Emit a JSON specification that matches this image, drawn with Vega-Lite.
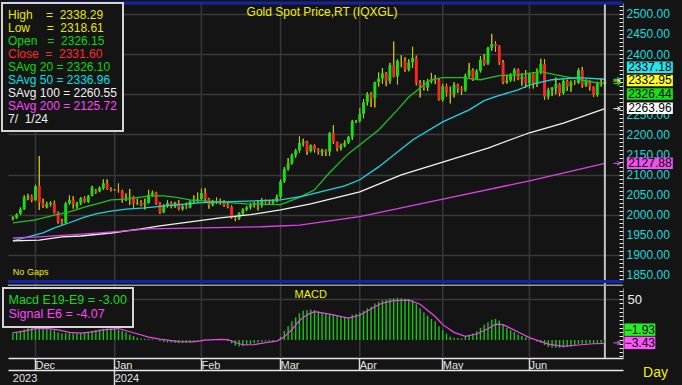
{
"$schema": "https://vega.github.io/schema/vega-lite/v6.json",
"width": 615,
"height": 355,
"autosize": {"type": "none"},
"padding": {"left": 8, "top": 3, "right": 59, "bottom": 27},
"background": "#141414",
"config": {
  "view": {"stroke": null},
  "font": "Liberation Sans",
  "axis": {"labelFont": "Liberation Sans", "titleFont": "Liberation Sans", "labelOverlap": false},
  "legend": {"labelFont": "Liberation Sans", "strokeWidth": 2},
  "text": {"font": "Liberation Sans"}
},
"datasets": {
  "bars": [
    {"d":"2023-11-23","o":1990,"h":1996,"l":1986,"c":1993,"m":9},
    {"d":"2023-11-24","o":1992,"h":2003,"l":1990,"c":2001,"m":10},
    {"d":"2023-11-27","o":2002,"h":2018,"l":2000,"c":2014,"m":11.5},
    {"d":"2023-11-28","o":2014,"h":2048,"l":2012,"c":2042,"m":13},
    {"d":"2023-11-29","o":2042,"h":2052,"l":2036,"c":2045,"m":15},
    {"d":"2023-11-30","o":2046,"h":2050,"l":2031,"c":2036,"m":16},
    {"d":"2023-12-01","o":2036,"h":2075,"l":2034,"c":2071,"m":16.5},
    {"d":"2023-12-04","o":2072,"h":2146,"l":2012,"c":2030,"m":16},
    {"d":"2023-12-05","o":2030,"h":2040,"l":2017,"c":2020,"m":15},
    {"d":"2023-12-06","o":2019,"h":2032,"l":2016,"c":2026,"m":14},
    {"d":"2023-12-07","o":2026,"h":2034,"l":2021,"c":2029,"m":13},
    {"d":"2023-12-08","o":2028,"h":2035,"l":2003,"c":2005,"m":12},
    {"d":"2023-12-11","o":2005,"h":2008,"l":1978,"c":1982,"m":9.5},
    {"d":"2023-12-12","o":1983,"h":1990,"l":1975,"c":1979,"m":8},
    {"d":"2023-12-13","o":1980,"h":2032,"l":1977,"c":2028,"m":8.5},
    {"d":"2023-12-14","o":2028,"h":2048,"l":2025,"c":2037,"m":8.5},
    {"d":"2023-12-15","o":2037,"h":2046,"l":2015,"c":2027,"m":8},
    {"d":"2023-12-18","o":2020,"h":2032,"l":2015,"c":2028,"m":8},
    {"d":"2023-12-19","o":2028,"h":2044,"l":2024,"c":2041,"m":8.5},
    {"d":"2023-12-20","o":2041,"h":2046,"l":2029,"c":2032,"m":9},
    {"d":"2023-12-21","o":2032,"h":2049,"l":2030,"c":2046,"m":10},
    {"d":"2023-12-22","o":2048,"h":2072,"l":2046,"c":2068,"m":11.5},
    {"d":"2023-12-25","o":2060,"h":2064,"l":2052,"c":2057,"m":12},
    {"d":"2023-12-26","o":2058,"h":2070,"l":2056,"c":2067,"m":13},
    {"d":"2023-12-27","o":2066,"h":2088,"l":2062,"c":2078,"m":14},
    {"d":"2023-12-28","o":2078,"h":2088,"l":2062,"c":2064,"m":14.5},
    {"d":"2023-12-29","o":2064,"h":2068,"l":2058,"c":2062,"m":14.5},
    {"d":"2024-01-01","o":2062,"h":2064,"l":2059,"c":2063,"m":14},
    {"d":"2024-01-02","o":2062,"h":2078,"l":2055,"c":2059,"m":13},
    {"d":"2024-01-03","o":2059,"h":2062,"l":2030,"c":2042,"m":11.5},
    {"d":"2024-01-04","o":2042,"h":2053,"l":2034,"c":2044,"m":9.5},
    {"d":"2024-01-05","o":2044,"h":2064,"l":2024,"c":2045,"m":7},
    {"d":"2024-01-08","o":2045,"h":2047,"l":2017,"c":2028,"m":5},
    {"d":"2024-01-09","o":2028,"h":2040,"l":2024,"c":2030,"m":3},
    {"d":"2024-01-10","o":2031,"h":2036,"l":2021,"c":2025,"m":2},
    {"d":"2024-01-11","o":2025,"h":2040,"l":2013,"c":2029,"m":1.5},
    {"d":"2024-01-12","o":2029,"h":2062,"l":2028,"c":2049,"m":1.5},
    {"d":"2024-01-15","o":2049,"h":2060,"l":2045,"c":2055,"m":1},
    {"d":"2024-01-16","o":2055,"h":2057,"l":2025,"c":2028,"m":0.5},
    {"d":"2024-01-17","o":2028,"h":2031,"l":2002,"c":2006,"m":-1.5},
    {"d":"2024-01-18","o":2006,"h":2026,"l":2004,"c":2023,"m":-2.5},
    {"d":"2024-01-19","o":2023,"h":2036,"l":2018,"c":2029,"m":-3},
    {"d":"2024-01-22","o":2029,"h":2033,"l":2016,"c":2021,"m":-3},
    {"d":"2024-01-23","o":2021,"h":2032,"l":2017,"c":2029,"m":-3.5},
    {"d":"2024-01-24","o":2029,"h":2036,"l":2011,"c":2014,"m":-3.5},
    {"d":"2024-01-25","o":2014,"h":2024,"l":2010,"c":2021,"m":-3.5},
    {"d":"2024-01-26","o":2021,"h":2030,"l":2014,"c":2018,"m":-3},
    {"d":"2024-01-29","o":2018,"h":2036,"l":2016,"c":2033,"m":-3},
    {"d":"2024-01-30","o":2033,"h":2048,"l":2028,"c":2037,"m":-2},
    {"d":"2024-01-31","o":2037,"h":2055,"l":2030,"c":2039,"m":-1},
    {"d":"2024-02-01","o":2039,"h":2065,"l":2036,"c":2054,"m":0.5},
    {"d":"2024-02-02","o":2054,"h":2066,"l":2030,"c":2039,"m":1},
    {"d":"2024-02-05","o":2039,"h":2042,"l":2015,"c":2024,"m":1},
    {"d":"2024-02-06","o":2024,"h":2037,"l":2021,"c":2035,"m":1},
    {"d":"2024-02-07","o":2035,"h":2043,"l":2027,"c":2034,"m":1},
    {"d":"2024-02-08","o":2034,"h":2040,"l":2025,"c":2030,"m":0.5},
    {"d":"2024-02-09","o":2030,"h":2036,"l":2020,"c":2024,"m":0},
    {"d":"2024-02-12","o":2024,"h":2030,"l":2016,"c":2020,"m":-1},
    {"d":"2024-02-13","o":2020,"h":2023,"l":1990,"c":1992,"m":-4},
    {"d":"2024-02-14","o":1992,"h":1996,"l":1984,"c":1991,"m":-7},
    {"d":"2024-02-15","o":1991,"h":2006,"l":1987,"c":2004,"m":-8},
    {"d":"2024-02-16","o":2004,"h":2016,"l":1999,"c":2013,"m":-7.5},
    {"d":"2024-02-19","o":2013,"h":2022,"l":2009,"c":2018,"m":-6.5},
    {"d":"2024-02-20","o":2018,"h":2030,"l":2013,"c":2024,"m":-5},
    {"d":"2024-02-21","o":2024,"h":2032,"l":2018,"c":2026,"m":-4},
    {"d":"2024-02-22","o":2026,"h":2035,"l":2011,"c":2024,"m":-3},
    {"d":"2024-02-23","o":2024,"h":2041,"l":2018,"c":2035,"m":-2},
    {"d":"2024-02-26","o":2035,"h":2038,"l":2026,"c":2031,"m":-1.5},
    {"d":"2024-02-27","o":2031,"h":2037,"l":2025,"c":2030,"m":-1},
    {"d":"2024-02-28","o":2030,"h":2038,"l":2024,"c":2034,"m":-1},
    {"d":"2024-02-29","o":2034,"h":2050,"l":2031,"c":2044,"m":0},
    {"d":"2024-03-01","o":2044,"h":2088,"l":2039,"c":2083,"m":4},
    {"d":"2024-03-04","o":2083,"h":2119,"l":2079,"c":2114,"m":11},
    {"d":"2024-03-05","o":2114,"h":2141,"l":2110,"c":2128,"m":17},
    {"d":"2024-03-06","o":2128,"h":2152,"l":2125,"c":2148,"m":23},
    {"d":"2024-03-07","o":2148,"h":2164,"l":2142,"c":2160,"m":28},
    {"d":"2024-03-08","o":2160,"h":2195,"l":2154,"c":2179,"m":33},
    {"d":"2024-03-11","o":2179,"h":2189,"l":2170,"c":2182,"m":36},
    {"d":"2024-03-12","o":2182,"h":2184,"l":2149,"c":2158,"m":37},
    {"d":"2024-03-13","o":2158,"h":2175,"l":2155,"c":2173,"m":37.5},
    {"d":"2024-03-14","o":2173,"h":2175,"l":2155,"c":2162,"m":37},
    {"d":"2024-03-15","o":2162,"h":2166,"l":2150,"c":2156,"m":35.5},
    {"d":"2024-03-18","o":2155,"h":2164,"l":2146,"c":2160,"m":34},
    {"d":"2024-03-19","o":2160,"h":2163,"l":2146,"c":2157,"m":32.5},
    {"d":"2024-03-20","o":2157,"h":2206,"l":2146,"c":2203,"m":32},
    {"d":"2024-03-21","o":2203,"h":2223,"l":2176,"c":2181,"m":31.5},
    {"d":"2024-03-22","o":2181,"h":2182,"l":2158,"c":2166,"m":30},
    {"d":"2024-03-25","o":2166,"h":2177,"l":2160,"c":2172,"m":28.5},
    {"d":"2024-03-26","o":2172,"h":2185,"l":2168,"c":2179,"m":27.5},
    {"d":"2024-03-27","o":2179,"h":2196,"l":2176,"c":2194,"m":28},
    {"d":"2024-03-28","o":2194,"h":2236,"l":2186,"c":2232,"m":31},
    {"d":"2024-03-29","o":2232,"h":2236,"l":2228,"c":2233,"m":32.5},
    {"d":"2024-04-01","o":2233,"h":2266,"l":2229,"c":2251,"m":34},
    {"d":"2024-04-02","o":2251,"h":2288,"l":2240,"c":2280,"m":36},
    {"d":"2024-04-03","o":2280,"h":2305,"l":2272,"c":2300,"m":39},
    {"d":"2024-04-04","o":2300,"h":2305,"l":2268,"c":2290,"m":41},
    {"d":"2024-04-05","o":2290,"h":2331,"l":2267,"c":2330,"m":45},
    {"d":"2024-04-08","o":2330,"h":2354,"l":2319,"c":2339,"m":47},
    {"d":"2024-04-09","o":2339,"h":2365,"l":2326,"c":2352,"m":49},
    {"d":"2024-04-10","o":2352,"h":2355,"l":2320,"c":2333,"m":50},
    {"d":"2024-04-11","o":2333,"h":2378,"l":2326,"c":2372,"m":51},
    {"d":"2024-04-12","o":2372,"h":2431,"l":2342,"c":2344,"m":51.5},
    {"d":"2024-04-15","o":2344,"h":2387,"l":2324,"c":2383,"m":52},
    {"d":"2024-04-16","o":2383,"h":2397,"l":2367,"c":2383,"m":51.5},
    {"d":"2024-04-17","o":2383,"h":2392,"l":2356,"c":2361,"m":51},
    {"d":"2024-04-18","o":2361,"h":2387,"l":2357,"c":2379,"m":50.5},
    {"d":"2024-04-19","o":2379,"h":2418,"l":2366,"c":2391,"m":49},
    {"d":"2024-04-22","o":2391,"h":2396,"l":2322,"c":2327,"m":44},
    {"d":"2024-04-23","o":2327,"h":2335,"l":2292,"c":2322,"m":39},
    {"d":"2024-04-24","o":2322,"h":2335,"l":2309,"c":2316,"m":34},
    {"d":"2024-04-25","o":2316,"h":2338,"l":2308,"c":2332,"m":30},
    {"d":"2024-04-26","o":2332,"h":2353,"l":2327,"c":2337,"m":26},
    {"d":"2024-04-29","o":2337,"h":2348,"l":2325,"c":2335,"m":23},
    {"d":"2024-04-30","o":2335,"h":2338,"l":2284,"c":2286,"m":17},
    {"d":"2024-05-01","o":2286,"h":2326,"l":2281,"c":2320,"m":12},
    {"d":"2024-05-02","o":2320,"h":2326,"l":2294,"c":2303,"m":8},
    {"d":"2024-05-03","o":2303,"h":2319,"l":2277,"c":2301,"m":4},
    {"d":"2024-05-06","o":2301,"h":2330,"l":2292,"c":2323,"m":3},
    {"d":"2024-05-07","o":2323,"h":2326,"l":2303,"c":2314,"m":2.5},
    {"d":"2024-05-08","o":2314,"h":2320,"l":2298,"c":2309,"m":2},
    {"d":"2024-05-09","o":2309,"h":2351,"l":2306,"c":2346,"m":4},
    {"d":"2024-05-10","o":2346,"h":2378,"l":2341,"c":2360,"m":6},
    {"d":"2024-05-13","o":2360,"h":2364,"l":2333,"c":2336,"m":8},
    {"d":"2024-05-14","o":2336,"h":2362,"l":2335,"c":2358,"m":11},
    {"d":"2024-05-15","o":2358,"h":2395,"l":2354,"c":2386,"m":15},
    {"d":"2024-05-16","o":2386,"h":2400,"l":2371,"c":2376,"m":19},
    {"d":"2024-05-17","o":2376,"h":2418,"l":2373,"c":2415,"m":22},
    {"d":"2024-05-20","o":2415,"h":2450,"l":2408,"c":2425,"m":25},
    {"d":"2024-05-21","o":2425,"h":2432,"l":2405,"c":2420,"m":26},
    {"d":"2024-05-22","o":2420,"h":2422,"l":2373,"c":2379,"m":24},
    {"d":"2024-05-23","o":2379,"h":2385,"l":2325,"c":2329,"m":19},
    {"d":"2024-05-24","o":2329,"h":2348,"l":2326,"c":2334,"m":15},
    {"d":"2024-05-27","o":2334,"h":2352,"l":2331,"c":2350,"m":12},
    {"d":"2024-05-28","o":2350,"h":2365,"l":2332,"c":2361,"m":10},
    {"d":"2024-05-29","o":2361,"h":2364,"l":2335,"c":2338,"m":7},
    {"d":"2024-05-30","o":2338,"h":2352,"l":2321,"c":2343,"m":5},
    {"d":"2024-05-31","o":2343,"h":2360,"l":2316,"c":2327,"m":3.5},
    {"d":"2024-06-03","o":2327,"h":2354,"l":2314,"c":2350,"m":1.5},
    {"d":"2024-06-04","o":2350,"h":2352,"l":2314,"c":2326,"m":0},
    {"d":"2024-06-05","o":2326,"h":2364,"l":2318,"c":2355,"m":-2},
    {"d":"2024-06-06","o":2355,"h":2388,"l":2350,"c":2375,"m":-3.5},
    {"d":"2024-06-07","o":2375,"h":2387,"l":2286,"c":2294,"m":-6},
    {"d":"2024-06-10","o":2294,"h":2316,"l":2287,"c":2310,"m":-8.5},
    {"d":"2024-06-11","o":2310,"h":2318,"l":2296,"c":2316,"m":-9},
    {"d":"2024-06-12","o":2316,"h":2342,"l":2300,"c":2325,"m":-9.5},
    {"d":"2024-06-13","o":2325,"h":2328,"l":2295,"c":2303,"m":-9.5},
    {"d":"2024-06-14","o":2303,"h":2337,"l":2299,"c":2333,"m":-9},
    {"d":"2024-06-17","o":2333,"h":2336,"l":2308,"c":2319,"m":-8.5},
    {"d":"2024-06-18","o":2319,"h":2334,"l":2306,"c":2329,"m":-8},
    {"d":"2024-06-19","o":2329,"h":2335,"l":2323,"c":2328,"m":-7},
    {"d":"2024-06-20","o":2328,"h":2365,"l":2326,"c":2360,"m":-5},
    {"d":"2024-06-21","o":2360,"h":2368,"l":2316,"c":2322,"m":-4.5},
    {"d":"2024-06-24","o":2322,"h":2337,"l":2318,"c":2334,"m":-4.5},
    {"d":"2024-06-25","o":2334,"h":2335,"l":2309,"c":2319,"m":-4},
    {"d":"2024-06-26","o":2319,"h":2320,"l":2293,"c":2298,"m":-4.5},
    {"d":"2024-06-27","o":2298,"h":2331,"l":2294,"c":2327,"m":-3.5},
    {"d":"2024-06-28","o":2327,"h":2339,"l":2319,"c":2326,"m":-3},
    {"d":"2024-07-01","o":2326.15,"h":2338.29,"l":2318.61,"c":2331.6,"m":-3}
  ],
  "ma": [
    {"d":"2023-11-23","s":"SAvg 20","v":1979.5},{"d":"2023-12-01","s":"SAvg 20","v":1987},{"d":"2023-12-08","s":"SAvg 20","v":1999},{"d":"2023-12-14","s":"SAvg 20","v":2007},{"d":"2023-12-20","s":"SAvg 20","v":2019},{"d":"2023-12-26","s":"SAvg 20","v":2029},{"d":"2023-12-29","s":"SAvg 20","v":2037},{"d":"2024-01-04","s":"SAvg 20","v":2039},{"d":"2024-01-10","s":"SAvg 20","v":2044},{"d":"2024-01-12","s":"SAvg 20","v":2047},{"d":"2024-01-18","s":"SAvg 20","v":2047},{"d":"2024-01-23","s":"SAvg 20","v":2044},{"d":"2024-01-29","s":"SAvg 20","v":2037},{"d":"2024-02-07","s":"SAvg 20","v":2032},{"d":"2024-02-19","s":"SAvg 20","v":2027},{"d":"2024-03-01","s":"SAvg 20","v":2025},{"d":"2024-03-08","s":"SAvg 20","v":2043},{"d":"2024-03-14","s":"SAvg 20","v":2062},{"d":"2024-03-20","s":"SAvg 20","v":2105},{"d":"2024-03-27","s":"SAvg 20","v":2152},{"d":"2024-04-08","s":"SAvg 20","v":2211},{"d":"2024-04-15","s":"SAvg 20","v":2261},{"d":"2024-04-18","s":"SAvg 20","v":2293},{"d":"2024-04-24","s":"SAvg 20","v":2323},{"d":"2024-04-26","s":"SAvg 20","v":2336},{"d":"2024-05-01","s":"SAvg 20","v":2341},{"d":"2024-05-08","s":"SAvg 20","v":2341},{"d":"2024-05-15","s":"SAvg 20","v":2336},{"d":"2024-05-22","s":"SAvg 20","v":2346},{"d":"2024-05-29","s":"SAvg 20","v":2348},{"d":"2024-06-06","s":"SAvg 20","v":2356},{"d":"2024-06-12","s":"SAvg 20","v":2348},{"d":"2024-06-18","s":"SAvg 20","v":2341},{"d":"2024-06-25","s":"SAvg 20","v":2331},{"d":"2024-07-01","s":"SAvg 20","v":2326.44},
    {"d":"2023-11-23","s":"SAvg 50","v":1935},{"d":"2023-12-05","s":"SAvg 50","v":1955},{"d":"2023-12-08","s":"SAvg 50","v":1967},{"d":"2023-12-14","s":"SAvg 50","v":1980},{"d":"2023-12-20","s":"SAvg 50","v":1994},{"d":"2023-12-25","s":"SAvg 50","v":2002},{"d":"2023-12-29","s":"SAvg 50","v":2009},{"d":"2024-01-04","s":"SAvg 50","v":2014},{"d":"2024-01-11","s":"SAvg 50","v":2017},{"d":"2024-01-17","s":"SAvg 50","v":2021},{"d":"2024-02-01","s":"SAvg 50","v":2030},{"d":"2024-02-15","s":"SAvg 50","v":2033},{"d":"2024-03-01","s":"SAvg 50","v":2037},{"d":"2024-03-11","s":"SAvg 50","v":2046},{"d":"2024-03-26","s":"SAvg 50","v":2072},{"d":"2024-04-01","s":"SAvg 50","v":2087},{"d":"2024-04-08","s":"SAvg 50","v":2119},{"d":"2024-04-19","s":"SAvg 50","v":2186},{"d":"2024-05-01","s":"SAvg 50","v":2231},{"d":"2024-05-10","s":"SAvg 50","v":2261},{"d":"2024-05-16","s":"SAvg 50","v":2284},{"d":"2024-05-21","s":"SAvg 50","v":2294},{"d":"2024-05-29","s":"SAvg 50","v":2311},{"d":"2024-06-03","s":"SAvg 50","v":2323},{"d":"2024-06-11","s":"SAvg 50","v":2336},{"d":"2024-06-20","s":"SAvg 50","v":2341},{"d":"2024-07-01","s":"SAvg 50","v":2337.18},
    {"d":"2023-11-23","s":"SAvg 100","v":1935},{"d":"2023-12-04","s":"SAvg 100","v":1937},{"d":"2023-12-12","s":"SAvg 100","v":1945},{"d":"2023-12-19","s":"SAvg 100","v":1947},{"d":"2023-12-29","s":"SAvg 100","v":1954.5},{"d":"2024-01-10","s":"SAvg 100","v":1964.5},{"d":"2024-01-17","s":"SAvg 100","v":1972},{"d":"2024-01-29","s":"SAvg 100","v":1982},{"d":"2024-02-08","s":"SAvg 100","v":1992},{"d":"2024-02-20","s":"SAvg 100","v":2000},{"d":"2024-03-01","s":"SAvg 100","v":2012},{"d":"2024-03-13","s":"SAvg 100","v":2027},{"d":"2024-04-01","s":"SAvg 100","v":2057},{"d":"2024-04-16","s":"SAvg 100","v":2099},{"d":"2024-05-01","s":"SAvg 100","v":2131},{"d":"2024-05-17","s":"SAvg 100","v":2166},{"d":"2024-06-03","s":"SAvg 100","v":2204},{"d":"2024-06-14","s":"SAvg 100","v":2228},{"d":"2024-07-01","s":"SAvg 100","v":2263.96},
    {"d":"2023-11-23","s":"SAvg 200","v":1942},{"d":"2023-12-04","s":"SAvg 200","v":1945},{"d":"2023-12-14","s":"SAvg 200","v":1950},{"d":"2023-12-26","s":"SAvg 200","v":1955},{"d":"2024-01-04","s":"SAvg 200","v":1960},{"d":"2024-01-12","s":"SAvg 200","v":1965},{"d":"2024-02-01","s":"SAvg 200","v":1967},{"d":"2024-02-23","s":"SAvg 200","v":1970},{"d":"2024-03-08","s":"SAvg 200","v":1974},{"d":"2024-04-01","s":"SAvg 200","v":1995},{"d":"2024-05-01","s":"SAvg 200","v":2039},{"d":"2024-06-03","s":"SAvg 200","v":2084},{"d":"2024-07-01","s":"SAvg 200","v":2127.88}
  ],
  "sig": [
    {"d":"2023-11-23","v":9},{"d":"2023-11-28","v":11},{"d":"2023-12-01","v":14},{"d":"2023-12-06","v":14.5},{"d":"2023-12-11","v":12.5},{"d":"2023-12-14","v":9.5},{"d":"2023-12-19","v":8.5},{"d":"2023-12-22","v":10},{"d":"2023-12-27","v":12.5},{"d":"2024-01-02","v":14.2},{"d":"2024-01-08","v":9},{"d":"2024-01-12","v":3.7},{"d":"2024-01-17","v":1.2},{"d":"2024-01-24","v":-1.8},{"d":"2024-01-30","v":-2.2},{"d":"2024-02-02","v":0},{"d":"2024-02-08","v":1},{"d":"2024-02-12","v":0.5},{"d":"2024-02-14","v":-3},{"d":"2024-02-16","v":-5.7},{"d":"2024-02-21","v":-5.5},{"d":"2024-02-26","v":-3},{"d":"2024-02-29","v":-1.2},{"d":"2024-03-04","v":4},{"d":"2024-03-06","v":13},{"d":"2024-03-08","v":24},{"d":"2024-03-12","v":31},{"d":"2024-03-14","v":35},{"d":"2024-03-20","v":32},{"d":"2024-03-27","v":27},{"d":"2024-04-01","v":30.5},{"d":"2024-04-05","v":41},{"d":"2024-04-09","v":45.5},{"d":"2024-04-12","v":48.5},{"d":"2024-04-18","v":49},{"d":"2024-04-23","v":44},{"d":"2024-04-29","v":29},{"d":"2024-05-01","v":19},{"d":"2024-05-06","v":9.5},{"d":"2024-05-09","v":4.5},{"d":"2024-05-14","v":7.5},{"d":"2024-05-17","v":14},{"d":"2024-05-21","v":19.5},{"d":"2024-05-23","v":19},{"d":"2024-05-29","v":10},{"d":"2024-06-03","v":3},{"d":"2024-06-10","v":-5},{"d":"2024-06-14","v":-7.8},{"d":"2024-06-20","v":-6},{"d":"2024-06-26","v":-4.5},{"d":"2024-07-01","v":-4.07}
  ],
  "months": [
    {"d":"2023-12-01"},{"d":"2024-01-01"},{"d":"2024-02-01"},{"d":"2024-03-01"},{"d":"2024-04-01"},{"d":"2024-05-01"},{"d":"2024-06-03"}
  ],
  "tagsMain": [
    {"k":"s50","v":2337.18},
    {"k":"close","v":2332.95},
    {"k":"s20","v":2326.44},
    {"k":"s100","v":2263.96},
    {"k":"s200","v":2127.88}
  ],
  "tagsMacd": [
    {"k":"macd","v":-1.93},
    {"k":"sig","v":-3.43}
  ]
},
"layer": [
  {
    "layer": [
      {
        "data": {"name": "bars"},
        "mark": {"type": "rule", "stroke": "#c8c800", "strokeWidth": 1},
        "encoding": {
          "x": {"field": "d", "type": "ordinal",
                "scale": {"type": "band", "paddingInner": 0, "paddingOuter": 0.55, "align": 0.72, "domain": {"unionWith": ["2024-07-02","2024-07-03","2024-07-04","2024-07-05"]}},
                "axis": null},
          "y": {"field": "l", "type": "quantitative",
            "scale": {"domain": [1837.5, 2527], "range": [277, 0], "nice": false, "zero": false},
            "axis": {
              "orient": "right", "title": null, "zindex": 0, "tickCount": 200,
              "values": [1840,1850,1860,1870,1880,1890,1900,1910,1920,1930,1940,1950,1960,1970,1980,1990,2000,2010,2020,2030,2040,2050,2060,2070,2080,2090,2100,2110,2120,2130,2140,2150,2160,2170,2180,2190,2200,2210,2220,2230,2240,2250,2260,2270,2280,2290,2300,2310,2320,2330,2340,2350,2360,2370,2380,2390,2400,2410,2420,2430,2440,2450,2460,2470,2480,2490,2500,2510,2520],
              "labelExpr": "datum.value % 50 == 0 && datum.value != 2350 && datum.value != 2300 ? format(datum.value, '.2f') : ''",
              "labelColor": "#16dcdc", "labelFontSize": 12, "labelOverlap": false, "labelPadding": 7,
              "tickColor": "#e8e8e8", "tickSize": -4,
              "domainColor": "#8a8a8a",
              "grid": true, "gridColor": "#3a3a3a", "gridWidth": 1.5,
              "gridOpacity": {"condition": {"test": "datum.value % 100 == 0", "value": 1}, "value": 0}
            }
          },
          "y2": {"field": "h"}
        }
      },
      {
        "data": {"name": "months"},
        "mark": {"type": "rule", "stroke": "#383838", "strokeWidth": 1.5},
        "encoding": {
          "x": {"field": "d", "type": "ordinal", "axis": null}
        }
      },
      {
        "data": {"name": "bars"},
        "mark": {"type": "rule", "stroke": "#c8c800", "strokeWidth": 1},
        "encoding": {
          "x": {"field": "d", "type": "ordinal", "axis": null},
          "y": {"field": "l", "type": "quantitative"},
          "y2": {"field": "h"}
        }
      },
      {
        "data": {"name": "bars"},
        "mark": {"type": "bar", "width": {"band": 0.78}},
        "encoding": {
          "x": {"field": "d", "type": "ordinal", "axis": null},
          "y": {"field": "o", "type": "quantitative"},
          "y2": {"field": "c"},
          "fill": {"condition": {"test": "datum.c >= datum.o", "value": "#12e012"}, "value": "#ff2424"}
        }
      },
      {
        "data": {"name": "ma"},
        "mark": {"type": "line", "strokeWidth": 1.3},
        "encoding": {
          "x": {"field": "d", "type": "ordinal", "axis": null},
          "y": {"field": "v", "type": "quantitative"},
          "color": {"field": "s", "type": "nominal",
            "scale": {"domain": ["High","Low","Open","Close","SAvg 20","SAvg 50","SAvg 100","SAvg 200","7/ 1/24"],
                      "range": ["#e0e000","#e0e000","#00dd00","#ff2a2a","#1ec21e","#1ad6e0","#f2f2f2","#e040e8","#f0f0f0"]},
            "legend": {
              "title": null, "orient": "none", "legendX": -6, "legendY": 0, "direction": "vertical",
              "padding": 6, "fillColor": "#141414", "strokeColor": "#d4d4d4", "zindex": 1,
              "symbolSize": 0.01, "symbolStrokeWidth": 0.01, "symbolOpacity": 0, "labelOffset": -12,
              "rowPadding": 1, "labelFontSize": 12, "labelLimit": 300,
              "labelExpr": "['High\u00a0\u00a0\u00a0\u00a0=\u00a0\u00a02338.29','Low\u00a0\u00a0\u00a0\u00a0\u00a0=\u00a0\u00a02318.61','Open\u00a0\u00a0\u00a0=\u00a0\u00a02326.15','Close\u00a0\u00a0=\u00a0\u00a02331.60','SAvg\u00a020\u00a0=\u00a02326.10','SAvg\u00a050\u00a0=\u00a02336.96','SAvg\u00a0100\u00a0=\u00a02260.55','SAvg\u00a0200\u00a0=\u00a02125.72','\u00a0\u00a07/\u00a0\u00a01/24'][indexof(['High','Low','Open','Close','SAvg 20','SAvg 50','SAvg 100','SAvg 200','7/ 1/24'], datum.label)]",
              "labelColor": {"expr": "['#e8e800','#e8e800','#00dd00','#ff2a2a','#00dd00','#00e0e0','#f0f0f0','#ff44ff','#f0f0f0'][indexof(['High','Low','Open','Close','SAvg 20','SAvg 50','SAvg 100','SAvg 200','7/ 1/24'], datum.value)]"}
            }
          }
        }
      },
      {
        "data": {"values": [{}]},
        "mark": {"type": "rule", "stroke": "#c4c4c4", "strokeWidth": 2},
        "encoding": {"x": {"datum": "2024-07-01", "type": "ordinal", "axis": null}}
      },
      {
        "data": {"values": [{}]},
        "mark": {"type": "rule", "stroke": "#1424a8", "strokeWidth": 3},
        "encoding": {"y": {"datum": 2527, "type": "quantitative"}}
      },
      {
        "data": {"values": [{}]},
        "mark": {"type": "rule", "stroke": "#1424a8", "strokeWidth": 3},
        "encoding": {"y": {"datum": 1834, "type": "quantitative"}}
      },
      {
        "data": {"values": [{}]},
        "mark": {"type": "text", "text": "Gold Spot Price,RT (IQXGL)", "color": "#f0f000", "fontSize": 12, "align": "center", "baseline": "middle"},
        "encoding": {
          "x": {"datum": "2024-03-18", "type": "ordinal", "axis": null},
          "y": {"datum": 2504.6, "type": "quantitative"}
        }
      },
      {
        "data": {"values": [{}]},
        "mark": {"type": "text", "text": "No Gaps", "color": "#f0f000", "fontSize": 9, "align": "left", "baseline": "middle"},
        "encoding": {
          "x": {"datum": "2023-11-23", "type": "ordinal", "axis": null},
          "y": {"datum": 1857.4, "type": "quantitative"}
        }
      },
      {
        "data": {"name": "tagsMain"},
        "mark": {"type": "point", "shape": "M-1,0H0.8M0.1,-0.55L1,0L0.1,0.55", "size": 49, "filled": false, "strokeWidth": 1, "opacity": 1, "xOffset": 12},
        "encoding": {
          "x": {"datum": "2024-07-01", "type": "ordinal", "axis": null},
          "y": {"field": "v", "type": "quantitative"},
          "stroke": {"field": "k", "type": "nominal", "scale": {"domain": ["s50","close","s20","s100","s200"], "range": ["#22e4ea","#ffff22","#16e016","#ffffff","#f050f0"]}, "legend": null}
        }
      },
      {
        "data": {"name": "tagsMain"},
        "mark": {"type": "point", "shape": "M-1,-0.25H1V0.25H-1Z", "size": 2116, "filled": true, "opacity": 1, "xOffset": 45, "yOffset": -12},
        "transform": [{"filter": "datum.k == 's50'"}],
        "encoding": {
          "x": {"datum": "2024-07-01", "type": "ordinal", "axis": null},
          "y": {"field": "v", "type": "quantitative"},
          "fill": {"field": "k", "type": "nominal", "scale": {"domain": ["s50","close","s20","s100","s200"], "range": ["#22e4ea","#ffff22","#16e016","#ffffff","#f050f0"]}, "legend": null}
        }
      },
      {
        "data": {"name": "tagsMain"},
        "mark": {"type": "text", "xOffset": 45, "yOffset": -12, "color": "#000000", "fontSize": 12, "align": "center", "baseline": "middle"},
        "transform": [{"filter": "datum.k == 's50'"}],
        "encoding": {
          "x": {"datum": "2024-07-01", "type": "ordinal", "axis": null},
          "y": {"field": "v", "type": "quantitative"},
          "text": {"field": "v", "type": "quantitative", "format": ".2f"}
        }
      },
      {
        "data": {"name": "tagsMain"},
        "mark": {"type": "point", "shape": "M-1,-0.25H1V0.25H-1Z", "size": 2116, "filled": true, "opacity": 1, "xOffset": 45, "yOffset": -0.5},
        "transform": [{"filter": "datum.k == 'close' || datum.k == 's100'"}],
        "encoding": {
          "x": {"datum": "2024-07-01", "type": "ordinal", "axis": null},
          "y": {"field": "v", "type": "quantitative"},
          "fill": {"field": "k", "type": "nominal", "legend": null}
        }
      },
      {
        "data": {"name": "tagsMain"},
        "mark": {"type": "text", "xOffset": 45, "yOffset": -0.5, "color": "#000000", "fontSize": 12, "align": "center", "baseline": "middle"},
        "transform": [{"filter": "datum.k == 'close' || datum.k == 's100'"}],
        "encoding": {
          "x": {"datum": "2024-07-01", "type": "ordinal", "axis": null},
          "y": {"field": "v", "type": "quantitative"},
          "text": {"field": "v", "type": "quantitative", "format": ".2f"}
        }
      },
      {
        "data": {"name": "tagsMain"},
        "mark": {"type": "point", "shape": "M-1,-0.25H1V0.25H-1Z", "size": 2116, "filled": true, "opacity": 1, "xOffset": 45, "yOffset": 10.5},
        "transform": [{"filter": "datum.k == 's20'"}],
        "encoding": {
          "x": {"datum": "2024-07-01", "type": "ordinal", "axis": null},
          "y": {"field": "v", "type": "quantitative"},
          "fill": {"field": "k", "type": "nominal", "legend": null}
        }
      },
      {
        "data": {"name": "tagsMain"},
        "mark": {"type": "text", "xOffset": 45, "yOffset": 10.5, "color": "#000000", "fontSize": 12, "align": "center", "baseline": "middle"},
        "transform": [{"filter": "datum.k == 's20'"}],
        "encoding": {
          "x": {"datum": "2024-07-01", "type": "ordinal", "axis": null},
          "y": {"field": "v", "type": "quantitative"},
          "text": {"field": "v", "type": "quantitative", "format": ".2f"}
        }
      },
      {
        "data": {"name": "tagsMain"},
        "mark": {"type": "point", "shape": "M-1,-0.25H1V0.25H-1Z", "size": 2116, "filled": true, "opacity": 1, "xOffset": 45},
        "transform": [{"filter": "datum.k == 's200'"}],
        "encoding": {
          "x": {"datum": "2024-07-01", "type": "ordinal", "axis": null},
          "y": {"field": "v", "type": "quantitative"},
          "fill": {"field": "k", "type": "nominal", "legend": null}
        }
      },
      {
        "data": {"name": "tagsMain"},
        "mark": {"type": "text", "xOffset": 45, "color": "#000000", "fontSize": 12, "align": "center", "baseline": "middle"},
        "transform": [{"filter": "datum.k == 's200'"}],
        "encoding": {
          "x": {"datum": "2024-07-01", "type": "ordinal", "axis": null},
          "y": {"field": "v", "type": "quantitative"},
          "text": {"field": "v", "type": "quantitative", "format": ".2f"}
        }
      }
    ]
  },
  {
    "layer": [
      {
        "data": {"name": "bars"},
        "mark": {"type": "rule", "strokeWidth": 1.4},
        "encoding": {
          "x": {"field": "d", "type": "ordinal",
            "axis": {
              "orient": "bottom", "title": "Day", "titleColor": "#f0f000", "titleFontSize": 14, "titleFontWeight": "normal",
              "titleX": 647, "titleY": 14, "titleAlign": "center", "titleBaseline": "middle",
              "values": ["2023-12-01","2024-01-01","2024-02-01","2024-03-01","2024-04-01","2024-05-01","2024-06-03"],
              "labelExpr": "['\u00a0Dec','\u00a0Jan','\u00a0Feb','\u00a0Mar','\u00a0Apr','\u00a0May','\u00a0Jun'][indexof(['2023-12-01','2024-01-01','2024-02-01','2024-03-01','2024-04-01','2024-05-01','2024-06-03'], datum.value)]",
              "labelAngle": 0,
              "tickSize": 12, "tickColor": "#d8d8d8", "tickWidth": 1.5,
              "domainColor": "#e8e8e8", "domainWidth": 1.5,
              "labelAlign": "left", "labelBaseline": "top", "labelPadding": -11,
              "labelColor": "#e4e4e4", "labelFontSize": 11, "labelFlush": false, "labelOverlap": false,
              "grid": false
            }
          },
          "y": {"field": "m", "type": "quantitative",
            "scale": {"domain": [-22, 64], "range": [355, 285], "nice": false, "zero": false},
            "axis": {
              "orient": "right", "title": null, "zindex": 0, "tickCount": 200,
              "values": [-20,-15,-10,-5,0,5,10,15,20,25,30,35,40,45,50,55,60],
              "labelExpr": "datum.value == 50 ? '50' : ''",
              "labelColor": "#f0f0f0", "labelFontSize": 13, "labelOverlap": false, "labelPadding": 8,
              "tickColor": "#e8e8e8", "tickSize": -4,
              "domainColor": "#8a8a8a",
              "grid": true, "gridColor": "#3a3a3a", "gridWidth": 1.5,
              "gridOpacity": {"condition": {"test": "datum.value == 50", "value": 1}, "value": 0}
            }
          },
          "y2": {"datum": 0},
          "color": {"datum": "Macd\u00a0E19-E9\u00a0=\u00a0-3.00", "type": "nominal",
            "scale": {"domain": ["Macd\u00a0E19-E9\u00a0=\u00a0-3.00", "Signal\u00a0E6\u00a0=\u00a0-4.07"], "range": ["#14c814", "#ee44ee"]},
            "legend": {
              "title": null, "orient": "none", "legendX": -5, "legendY": 285, "direction": "vertical",
              "padding": 6, "fillColor": "#141414", "strokeColor": "#d4d4d4", "zindex": 1,
              "symbolSize": 0.01, "symbolStrokeWidth": 0.01, "symbolOpacity": 0, "labelOffset": -13,
              "rowPadding": 1, "labelFontSize": 12.5, "labelLimit": 300,
              "labelColor": {"expr": "indexof(datum.value, 'Macd') == 0 ? '#11dd11' : '#ff44ff'"}
            }
          }
        }
      },
      {
        "data": {"name": "sig"},
        "mark": {"type": "line", "strokeWidth": 1.2, "color": "#ee44ee"},
        "encoding": {
          "x": {"field": "d", "type": "ordinal",
            "axis": {
              "orient": "bottom", "offset": 12, "title": null,
              "values": ["2023-11-23","2024-01-01"],
              "labelExpr": "datum.value == '2024-01-01' ? '\u00a02024' : '\u00a02023'",
              "labelAngle": 0,
              "tickSize": 15, "tickColor": "#d8d8d8", "tickWidth": 1.5,
              "tickOpacity": {"condition": {"test": "datum.value == '2024-01-01'", "value": 1}, "value": 0},
              "domainColor": "#e8e8e8", "domainWidth": 1.5,
              "labelAlign": "left", "labelBaseline": "top", "labelPadding": -13,
              "labelColor": "#e4e4e4", "labelFontSize": 11, "labelFlush": false, "labelOverlap": false,
              "grid": false
            }
          },
          "y": {"field": "v", "type": "quantitative"}
        }
      },
      {
        "data": {"values": [{}]},
        "mark": {"type": "rule", "stroke": "#9a9a9a", "strokeWidth": 1.5},
        "encoding": {"y": {"datum": 67.5, "type": "quantitative"}}
      },
      {
        "data": {"values": [{}]},
        "mark": {"type": "text", "text": "MACD", "color": "#f0f000", "fontSize": 11, "align": "center", "baseline": "middle"},
        "encoding": {
          "x": {"datum": "2024-03-13", "type": "ordinal", "axis": null},
          "y": {"datum": 55.4, "type": "quantitative"}
        }
      },
      {
        "data": {"name": "tagsMacd"},
        "mark": {"type": "point", "shape": "M-1,-0.4H1V0.4H-1Z", "size": 961, "filled": true, "opacity": 1, "xOffset": 35, "yOffset": -12},
        "transform": [{"filter": "datum.k == 'macd'"}],
        "encoding": {
          "x": {"datum": "2024-07-01", "type": "ordinal", "axis": null},
          "y": {"field": "v", "type": "quantitative"},
          "fill": {"field": "k", "type": "nominal", "scale": {"domain": ["macd","sig"], "range": ["#22ee22","#ff55ff"]}, "legend": null}
        }
      },
      {
        "data": {"name": "tagsMacd"},
        "mark": {"type": "text", "xOffset": 35, "yOffset": -12, "color": "#000000", "fontSize": 12, "align": "center", "baseline": "middle"},
        "transform": [{"filter": "datum.k == 'macd'"}],
        "encoding": {
          "x": {"datum": "2024-07-01", "type": "ordinal", "axis": null},
          "y": {"field": "v", "type": "quantitative"},
          "text": {"field": "v", "type": "quantitative", "format": ".2f"}
        }
      },
      {
        "data": {"name": "tagsMacd"},
        "mark": {"type": "point", "shape": "M-1,-0.4H1V0.4H-1Z", "size": 961, "filled": true, "opacity": 1, "xOffset": 35},
        "transform": [{"filter": "datum.k == 'sig'"}],
        "encoding": {
          "x": {"datum": "2024-07-01", "type": "ordinal", "axis": null},
          "y": {"field": "v", "type": "quantitative"},
          "fill": {"field": "k", "type": "nominal", "legend": null}
        }
      },
      {
        "data": {"name": "tagsMacd"},
        "mark": {"type": "text", "xOffset": 35, "color": "#000000", "fontSize": 12, "align": "center", "baseline": "middle"},
        "transform": [{"filter": "datum.k == 'sig'"}],
        "encoding": {
          "x": {"datum": "2024-07-01", "type": "ordinal", "axis": null},
          "y": {"field": "v", "type": "quantitative"},
          "text": {"field": "v", "type": "quantitative", "format": ".2f"}
        }
      },
      {
        "data": {"name": "tagsMacd"},
        "mark": {"type": "point", "shape": "M-1,0H0.8M0.1,-0.55L1,0L0.1,0.55", "size": 49, "filled": false, "strokeWidth": 1, "opacity": 1, "xOffset": 12, "color": "#ff55ff"},
        "transform": [{"filter": "datum.k == 'sig'"}],
        "encoding": {
          "x": {"datum": "2024-07-01", "type": "ordinal", "axis": null},
          "y": {"field": "v", "type": "quantitative"}
        }
      }
    ],
    "resolve": {"axis": {"x": "independent"}}
  }
],
"resolve": {
  "scale": {"y": "independent", "color": "independent", "fill": "independent"},
  "axis": {"y": "independent"}
}
}
